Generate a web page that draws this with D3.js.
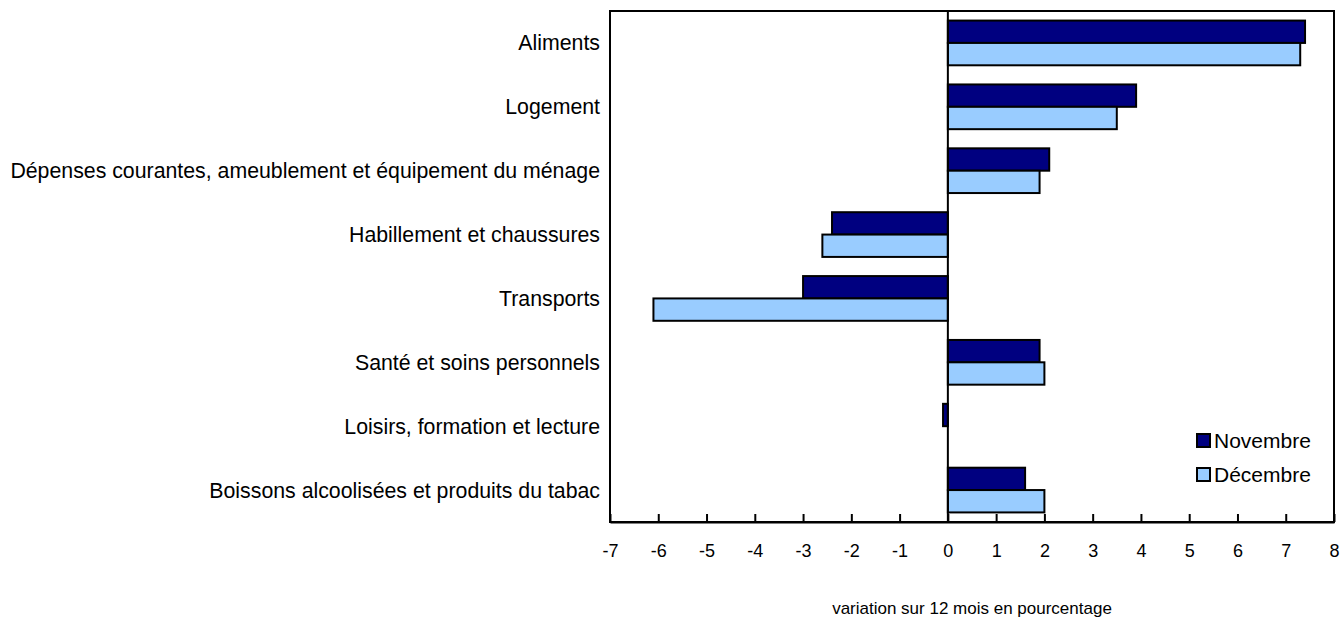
<!DOCTYPE html>
<html>
<head>
<meta charset="utf-8">
<script src="https://cdn.jsdelivr.net/npm/d3@7"></script>
<style>
  body { margin: 0; background: #fff; }
  text { font-family: "Liberation Sans", Arial, sans-serif; fill: #000; }
</style>
</head>
<body>
<div id="chart"></div>
<script>
// categories and values (12-month % change)
var categories = [
  "Aliments",
  "Logement",
  "Dépenses courantes, ameublement et équipement du ménage",
  "Habillement et chaussures",
  "Transports",
  "Santé et soins personnels",
  "Loisirs, formation et lecture",
  "Boissons alcoolisées et produits du tabac"
];
var novembre = [7.4, 3.9, 2.1, -2.4, -3.0, 1.9, -0.1, 1.6];
var decembre = [7.3, 3.5, 1.9, -2.6, -6.1, 2.0, 0, 2.0];
var seriesNames = ["Novembre", "Décembre"];
var seriesColors = ["#000080", "#99ccff"];
var xTicks = [-7, -6, -5, -4, -3, -2, -1, 0, 1, 2, 3, 4, 5, 6, 7, 8];

// set the dimensions and margins of the graph
var margin = {top: 11, right: 8, bottom: 103, left: 610},
    width = 1342 - margin.left - margin.right,
    height = 625 - margin.top - margin.bottom;

var svg = d3.select("#chart").append("svg")
    .attr("width", 1342)
    .attr("height", 625)
    .append("g")
    .attr("transform", "translate(" + margin.left + "," + margin.top + ")");

// scales
var x = d3.scaleLinear().domain([-7, 8]).range([0, width]);
var y = d3.scaleBand().domain(categories).range([0, height]).paddingInner(0.3).paddingOuter(0.15);
var ySub = d3.scaleBand().domain(seriesNames).range([0, y.bandwidth()]);

var data = categories.map(function(c, i) {
    return {cat: c, values: [novembre[i], decembre[i]]};
});

// bars
var groups = svg.selectAll(".grp")
    .data(data)
    .enter().append("g")
    .attr("transform", function(d) { return "translate(0," + y(d.cat) + ")"; });

groups.selectAll("rect")
    .data(function(d) { return d.values.map(function(v, j) { return {v: v, s: seriesNames[j], j: j}; }); })
    .enter().append("rect")
    .filter(function(d) { return d.v !== 0; })
    .attr("x", function(d) { return x(Math.min(0, d.v)); })
    .attr("y", function(d) { return ySub(d.s); })
    .attr("width", function(d) { return Math.abs(x(d.v) - x(0)); })
    .attr("height", ySub.bandwidth())
    .attr("fill", function(d) { return seriesColors[d.j]; })
    .attr("stroke", "#000")
    .attr("stroke-width", 2);

// zero line
svg.append("line")
    .attr("x1", x(0)).attr("x2", x(0))
    .attr("y1", 0).attr("y2", height)
    .attr("stroke", "#000").attr("stroke-width", 2);

// frame
svg.append("rect")
    .attr("x", 0).attr("y", 0)
    .attr("width", width).attr("height", height)
    .attr("fill", "none")
    .attr("stroke", "#000").attr("stroke-width", 2);

// x axis with inward ticks, plain hyphen for negatives
var xAxis = svg.append("g")
    .attr("transform", "translate(0," + height + ")")
    .call(d3.axisBottom(x).tickValues(xTicks)
        .tickFormat(function(d) { return String(d); })
        .tickSizeInner(-8).tickSizeOuter(0).tickPadding(22));
xAxis.select(".domain").attr("stroke-width", 2);
xAxis.selectAll(".tick line").attr("stroke-width", 2);
xAxis.selectAll("text").style("font-size", "18px").attr("fill", "#000");

// category labels
svg.selectAll(".cat")
    .data(categories)
    .enter().append("text")
    .attr("x", -10)
    .attr("y", function(d) { return y(d) + y.bandwidth() / 2; })
    .attr("dy", "0.35em")
    .attr("text-anchor", "end")
    .style("font-size", "21.3px")
    .text(function(d) { return d; });

// axis title
svg.append("text")
    .attr("x", width / 2)
    .attr("y", height + 92)
    .attr("text-anchor", "middle")
    .style("font-size", "17px")
    .text("variation sur 12 mois en pourcentage");

// legend
var legend = svg.selectAll(".leg")
    .data(seriesNames)
    .enter().append("g")
    .attr("transform", function(d, i) { return "translate(587," + (423 + i * 34) + ")"; });
legend.append("rect")
    .attr("width", 13).attr("height", 13)
    .attr("fill", function(d, i) { return seriesColors[i]; })
    .attr("stroke", "#000").attr("stroke-width", 2);
legend.append("text")
    .attr("x", 17).attr("y", 7).attr("dy", "0.35em")
    .style("font-size", "21px")
    .text(function(d) { return d; });
</script>
</body>
</html>
